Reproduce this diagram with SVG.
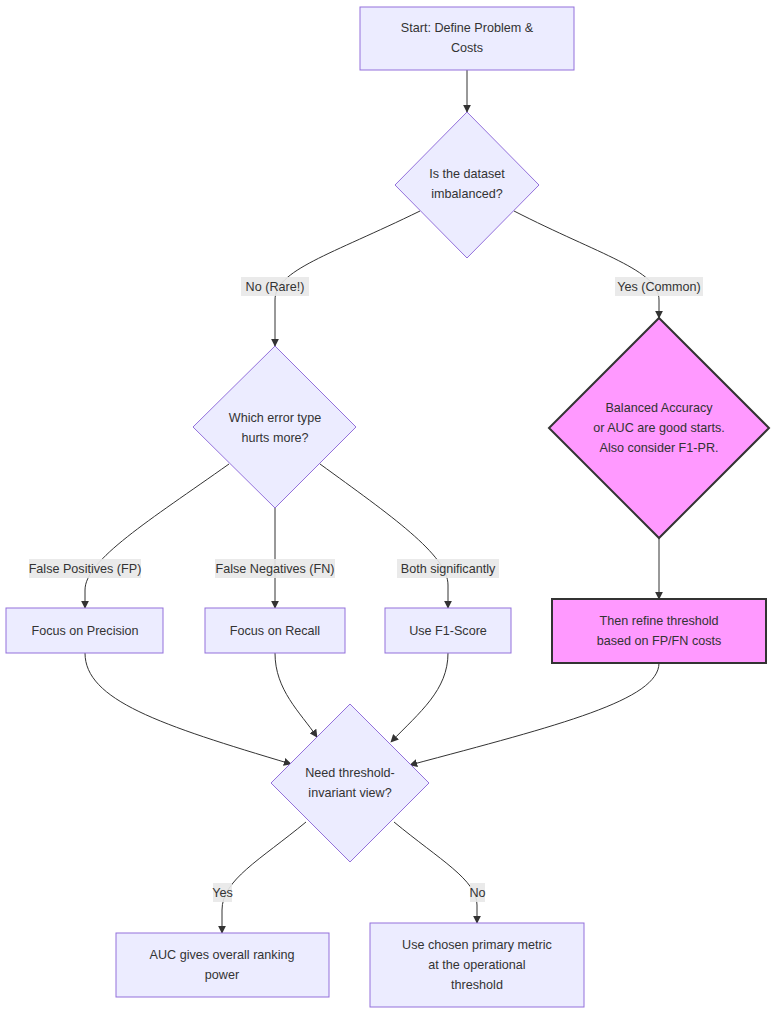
<svg xmlns="http://www.w3.org/2000/svg" width="784" height="1025" viewBox="0 0 784 1025">
<defs>
<marker id="arr" viewBox="0 0 10 10" refX="9" refY="5" markerWidth="8" markerHeight="8" markerUnits="userSpaceOnUse" orient="auto">
<path d="M0,0 L10,5 L0,10 z" fill="#333"/>
</marker>
<style>
.n{fill:#ECECFF;stroke:#9370DB;stroke-width:1}
.p{fill:#FF99FF;stroke:#333;stroke-width:2}
.t{font-family:"Liberation Sans",Arial,sans-serif;font-size:12.6px;fill:#333;text-anchor:middle;dominant-baseline:central}
.e{fill:none;stroke:#333;stroke-width:1;marker-end:url(#arr)}
.lb{fill:#e8e8e8;opacity:0.9}
</style>
</defs>
<rect width="784" height="1025" fill="#fff"/>
<g id="connectors">
<path class="e" d="M467,70 L467,112"/>
<path class="e" d="M420,211 C330,255 275,270 275,300 L275,346"/>
<path class="e" d="M514,211 C600,255 659,270 659,300 L659,318"/>
<path class="e" d="M229,464 C150,520 85,560 85,590 L85,608"/>
<path class="e" d="M275,508 L275,608"/>
<path class="e" d="M320,464 C390,515 448,555 448,585 L448,608"/>
<path class="e" d="M659,538 L659,599"/>
<path class="e" d="M85,653 C85,700 160,725 291,764"/>
<path class="e" d="M275,653 C275,690 300,712 317,737"/>
<path class="e" d="M448,653 C448,690 420,712 391,742"/>
<path class="e" d="M659,663 C659,700 560,725 410,765"/>
<path class="e" d="M306,822 C260,860 222,880 222,910 L222,933"/>
<path class="e" d="M394,822 C440,860 477,880 477,905 L477,923"/>
</g>
<g id="edge-labels">
<rect class="lb" x="241" y="277" width="68" height="19"/><text class="t" x="275" y="286.5">No (Rare!)</text>
<rect class="lb" x="615" y="277" width="88" height="19"/><text class="t" x="659" y="286.5">Yes (Common)</text>
<rect class="lb" x="29" y="559" width="112" height="19"/><text class="t" x="85" y="568.5">False Positives (FP)</text>
<rect class="lb" x="215" y="559" width="120" height="19"/><text class="t" x="275" y="568.5">False Negatives (FN)</text>
<rect class="lb" x="397" y="559" width="102" height="19"/><text class="t" x="448" y="568.5">Both significantly</text>
<rect class="lb" x="213" y="883" width="19" height="19"/><text class="t" x="222.5" y="892.5">Yes</text>
<rect class="lb" x="470" y="883" width="15" height="19"/><text class="t" x="477.5" y="892.5">No</text>
</g>
<g id="start">
<rect class="n" x="360" y="7" width="214" height="63"/>
<text class="t" x="467" y="28">Start: Define Problem &amp;</text>
<text class="t" x="467" y="48">Costs</text>
</g>
<g id="imbalanced">
<polygon class="n" points="467,112 539,185 467,258 395,185"/>
<text class="t" x="467" y="174">Is the dataset</text>
<text class="t" x="467" y="194">imbalanced?</text>
</g>
<g id="errortype">
<polygon class="n" points="275,346 356,427 275,508 193,427"/>
<text class="t" x="275" y="418">Which error type</text>
<text class="t" x="275" y="438">hurts more?</text>
</g>
<g id="balanced">
<polygon class="p" points="659,318 769,428 659,538 549,428"/>
<text class="t" x="659" y="408">Balanced Accuracy</text>
<text class="t" x="659" y="428">or AUC are good starts.</text>
<text class="t" x="659" y="448">Also consider F1-PR.</text>
</g>
<g id="refine">
<rect class="p" x="552" y="599" width="214" height="64"/>
<text class="t" x="659" y="621">Then refine threshold</text>
<text class="t" x="659" y="641">based on FP/FN costs</text>
</g>
<g id="precision">
<rect class="n" x="6" y="608" width="157" height="45"/>
<text class="t" x="85" y="631">Focus on Precision</text>
</g>
<g id="recall">
<rect class="n" x="205" y="608" width="140" height="45"/>
<text class="t" x="275" y="631">Focus on Recall</text>
</g>
<g id="f1">
<rect class="n" x="385" y="608" width="126" height="45"/>
<text class="t" x="448" y="631">Use F1-Score</text>
</g>
<g id="invariant">
<polygon class="n" points="350,704 429,783 350,862 271,783"/>
<text class="t" x="350" y="773">Need threshold-</text>
<text class="t" x="350" y="793">invariant view?</text>
</g>
<g id="auc">
<rect class="n" x="116" y="933" width="213" height="64"/>
<text class="t" x="222" y="955">AUC gives overall ranking</text>
<text class="t" x="222" y="975">power</text>
</g>
<g id="chosen">
<rect class="n" x="370" y="923" width="214" height="84"/>
<text class="t" x="477" y="945">Use chosen primary metric</text>
<text class="t" x="477" y="965">at the operational</text>
<text class="t" x="477" y="985">threshold</text>
</g>
</svg>
